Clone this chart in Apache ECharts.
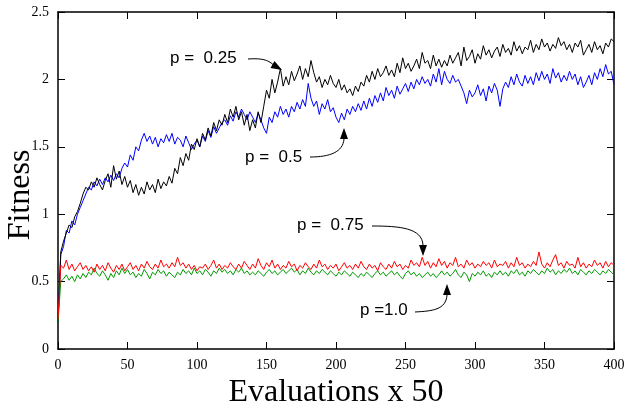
<!DOCTYPE html>
<html>
<head>
<meta charset="utf-8">
<script src="https://cdn.jsdelivr.net/npm/echarts@6/dist/echarts.min.js"></script>
<style>html,body{margin:0;padding:0;background:#fff}#c{width:628px;height:406px}</style>
</head>
<body>
<div id="c"></div>
<script>
// x positions: evaluations 0..400 step 2
const xStep = 2;
const xTicks = [0, 50, 100, 150, 200, 250, 300, 350, 400];
const yTicks = [0, 0.5, 1, 1.5, 2, 2.5];

const p025 = [
0.20,0.72,0.80,0.86,0.92,0.90,0.98,1.02,1.08,1.15,
1.20,1.18,1.24,1.20,1.27,1.22,1.18,1.25,1.30,1.20,
1.36,1.26,1.32,1.22,1.28,1.20,1.25,1.16,1.22,1.14,
1.20,1.15,1.24,1.18,1.22,1.16,1.26,1.19,1.24,1.21,
1.28,1.23,1.34,1.30,1.42,1.36,1.45,1.40,1.52,1.48,
1.56,1.50,1.60,1.55,1.64,1.58,1.68,1.62,1.70,1.66,
1.74,1.68,1.78,1.72,1.80,1.70,1.76,1.66,1.74,1.62,
1.70,1.64,1.76,1.68,1.80,1.92,1.86,2.00,1.90,1.98,
2.08,1.95,2.02,1.96,2.06,1.99,2.04,2.10,2.00,2.08,
2.02,2.14,2.05,1.98,2.02,1.94,2.00,1.96,2.03,1.97,
1.94,2.00,1.92,1.96,1.90,1.93,1.88,1.95,1.91,1.98,
1.95,2.03,1.98,2.06,2.00,2.08,2.02,2.05,2.10,2.03,
2.07,2.02,2.12,2.05,2.16,2.08,2.12,2.06,2.10,2.15,
2.08,2.20,2.12,2.14,2.08,2.18,2.10,2.15,2.09,2.14,
2.10,2.18,2.12,2.16,2.20,2.10,2.24,2.14,2.17,2.22,
2.12,2.19,2.15,2.25,2.18,2.22,2.16,2.21,2.24,2.17,
2.26,2.20,2.23,2.18,2.28,2.21,2.25,2.19,2.24,2.22,
2.29,2.20,2.26,2.22,2.30,2.24,2.27,2.21,2.26,2.23,
2.31,2.25,2.28,2.22,2.26,2.20,2.27,2.24,2.29,2.18,
2.22,2.26,2.20,2.28,2.22,2.25,2.19,2.27,2.24,2.30,
2.28];

const p05 = [
0.20,0.70,0.76,0.88,0.86,0.95,0.92,1.00,1.05,1.10,
1.15,1.20,1.18,1.24,1.21,1.26,1.22,1.27,1.24,1.29,
1.25,1.30,1.27,1.34,1.38,1.35,1.44,1.40,1.50,1.47,
1.55,1.60,1.54,1.58,1.52,1.57,1.50,1.56,1.53,1.59,
1.54,1.60,1.52,1.57,1.55,1.50,1.58,1.53,1.48,1.52,
1.55,1.50,1.58,1.54,1.62,1.57,1.65,1.60,1.64,1.68,
1.70,1.66,1.73,1.69,1.76,1.72,1.78,1.74,1.70,1.76,
1.72,1.68,1.75,1.70,1.64,1.60,1.72,1.68,1.76,1.72,
1.80,1.74,1.78,1.72,1.80,1.76,1.83,1.78,1.85,1.80,
1.97,1.86,1.80,1.84,1.74,1.82,1.78,1.85,1.76,1.79,
1.72,1.68,1.75,1.70,1.78,1.74,1.80,1.76,1.82,1.77,
1.84,1.78,1.86,1.80,1.88,1.83,1.90,1.84,1.94,1.88,
1.92,1.86,1.95,1.89,1.93,1.97,1.91,1.98,1.93,2.00,
1.96,2.02,1.97,2.00,1.95,2.04,1.98,2.08,1.96,2.06,
2.00,1.97,2.03,1.98,2.00,1.95,1.90,1.82,1.92,1.87,
1.90,1.96,1.88,1.93,1.84,1.95,1.90,1.97,1.92,1.80,
1.93,1.98,1.94,2.02,1.96,2.04,1.98,1.95,2.03,1.97,
2.02,1.96,2.05,1.99,2.06,2.00,2.04,1.97,2.08,2.01,
2.05,1.98,2.03,1.99,2.06,2.00,2.04,1.96,2.02,1.94,
1.98,2.03,1.96,2.05,2.00,2.08,2.02,2.11,2.04,2.06,
1.96];

const p075 = [
0.22,0.62,0.60,0.66,0.59,0.63,0.58,0.61,0.64,0.59,
0.62,0.58,0.61,0.57,0.63,0.59,0.62,0.58,0.64,0.60,
0.57,0.62,0.59,0.63,0.58,0.61,0.64,0.59,0.62,0.58,
0.63,0.60,0.65,0.61,0.59,0.63,0.60,0.66,0.61,0.63,
0.60,0.64,0.61,0.68,0.62,0.64,0.60,0.63,0.59,0.62,
0.58,0.61,0.60,0.63,0.59,0.62,0.66,0.60,0.63,0.59,
0.62,0.60,0.64,0.61,0.59,0.63,0.60,0.65,0.62,0.59,
0.63,0.60,0.67,0.62,0.59,0.64,0.61,0.66,0.60,0.63,
0.59,0.62,0.60,0.65,0.61,0.63,0.58,0.62,0.60,0.64,
0.61,0.59,0.63,0.60,0.66,0.61,0.63,0.59,0.62,0.60,
0.63,0.58,0.61,0.64,0.60,0.62,0.59,0.63,0.60,0.65,
0.61,0.59,0.63,0.60,0.62,0.58,0.64,0.61,0.59,0.63,
0.60,0.65,0.61,0.63,0.59,0.62,0.60,0.66,0.62,0.64,
0.61,0.68,0.62,0.65,0.60,0.64,0.61,0.67,0.62,0.65,
0.60,0.64,0.62,0.68,0.61,0.63,0.60,0.66,0.62,0.64,
0.60,0.63,0.61,0.65,0.62,0.64,0.60,0.66,0.61,0.63,
0.62,0.65,0.60,0.64,0.61,0.68,0.62,0.64,0.60,0.63,
0.61,0.65,0.62,0.72,0.63,0.60,0.64,0.61,0.66,0.70,
0.62,0.64,0.60,0.65,0.62,0.63,0.60,0.68,0.61,0.64,
0.60,0.63,0.61,0.66,0.62,0.64,0.60,0.65,0.61,0.64,
0.62];

const p10 = [
0.20,0.50,0.52,0.55,0.51,0.54,0.50,0.55,0.52,0.56,
0.53,0.57,0.55,0.60,0.56,0.54,0.58,0.55,0.51,0.56,
0.53,0.58,0.55,0.60,0.56,0.59,0.55,0.57,0.53,0.56,
0.54,0.59,0.56,0.52,0.57,0.55,0.59,0.56,0.58,0.54,
0.57,0.55,0.53,0.57,0.55,0.59,0.56,0.58,0.55,0.60,
0.56,0.58,0.55,0.59,0.57,0.54,0.58,0.56,0.60,0.57,
0.59,0.56,0.58,0.55,0.59,0.57,0.60,0.56,0.58,0.55,
0.57,0.55,0.58,0.56,0.54,0.57,0.59,0.56,0.58,0.55,
0.57,0.59,0.56,0.58,0.60,0.57,0.59,0.55,0.58,0.56,
0.60,0.57,0.55,0.58,0.56,0.59,0.57,0.55,0.58,0.56,
0.54,0.57,0.55,0.58,0.56,0.54,0.57,0.55,0.53,0.56,
0.54,0.57,0.55,0.53,0.56,0.58,0.55,0.57,0.54,0.56,
0.58,0.55,0.57,0.54,0.52,0.56,0.58,0.55,0.57,0.54,
0.56,0.53,0.55,0.57,0.54,0.56,0.53,0.55,0.58,0.55,
0.57,0.54,0.56,0.59,0.55,0.53,0.57,0.55,0.50,0.56,
0.54,0.57,0.55,0.58,0.54,0.56,0.53,0.57,0.55,0.58,
0.55,0.57,0.54,0.58,0.56,0.59,0.55,0.57,0.54,0.58,
0.56,0.59,0.57,0.55,0.58,0.56,0.60,0.57,0.59,0.55,
0.58,0.56,0.59,0.57,0.60,0.56,0.58,0.55,0.59,0.57,
0.55,0.58,0.56,0.59,0.57,0.55,0.58,0.56,0.59,0.57,
0.55];

const labels = ['p =  0.25', 'p =  0.5', 'p =  0.75', 'p =1.0'];
const xName = 'Evaluations x 50';
const yName = 'Fitness';

function pairs(arr) { return arr.map((v, i) => [i * xStep, v]); }

const serif = 'Liberation Serif, Times New Roman, serif';
const sans = 'Liberation Sans, Arial, sans-serif';

const chart = echarts.init(document.getElementById('c'), null, {renderer: 'canvas'});

const baseX = {
  type: 'value', min: xTicks[0], max: xTicks[xTicks.length - 1], interval: 50,
  splitLine: {show: false},
  axisLine: {show: true, onZero: false, lineStyle: {color: '#000', width: 1.5}},
  axisTick: {show: true, inside: true, length: 7, lineStyle: {color: '#000', width: 1}}
};
const baseY = {
  type: 'value', min: yTicks[0], max: yTicks[yTicks.length - 1], interval: 0.5,
  splitLine: {show: false},
  axisLine: {show: true, onZero: false, lineStyle: {color: '#000', width: 1.5}},
  axisTick: {show: true, inside: true, length: 7, lineStyle: {color: '#000', width: 1}}
};

function arrowHead(pts) {
  return {type: 'polygon', shape: {points: pts}, style: {fill: '#000'}, z: 100};
}
function curve(x1, y1, c1x, c1y, c2x, c2y, x2, y2) {
  return {type: 'bezierCurve', shape: {x1, y1, cpx1: c1x, cpy1: c1y, cpx2: c2x, cpy2: c2y, x2, y2},
    style: {stroke: '#000', lineWidth: 1, fill: null}, z: 100};
}
function label(t, x, y) {
  return {type: 'text', left: x, top: y - 10, z: 100,
    style: {text: t, font: '17px ' + sans, fill: '#000', textVerticalAlign: 'top'}};
}

chart.setOption({
  animation: false,
  backgroundColor: '#fff',
  grid: {left: 58, right: 14, top: 12, bottom: 57, show: false, containLabel: false, outerBoundsMode: 'none'},
  xAxis: [
    Object.assign({}, baseX, {
      position: 'bottom',
      name: xName, nameLocation: 'middle', nameGap: 24,
      nameTextStyle: {fontFamily: serif, fontSize: 32, color: '#000'},
      axisLabel: {show: true, margin: 9, fontFamily: serif, fontSize: 14, color: '#000'}
    }),
    Object.assign({}, baseX, {position: 'top', axisLabel: {show: false}})
  ],
  yAxis: [
    Object.assign({}, baseY, {
      position: 'left',
      axisLabel: {show: true, margin: 9, fontFamily: serif, fontSize: 14, color: '#000'}
    }),
    Object.assign({}, baseY, {position: 'right', axisLabel: {show: false}})
  ],
  series: [
    {name: labels[1], type: 'line', data: pairs(p05), showSymbol: false, lineStyle: {color: '#0000ff', width: 1}, itemStyle: {color: '#0000ff'}},
    {name: labels[0], type: 'line', data: pairs(p025), showSymbol: false, lineStyle: {color: '#000000', width: 1}, itemStyle: {color: '#000'}},
    {name: labels[3], type: 'line', data: pairs(p10), showSymbol: false, lineStyle: {color: '#009a00', width: 1}, itemStyle: {color: '#009a00'}},
    {name: labels[2], type: 'line', data: pairs(p075), showSymbol: false, lineStyle: {color: '#ff0000', width: 1}, itemStyle: {color: '#ff0000'}}
  ],
  graphic: [
    {type: 'text', x: 21, y: 195, rotation: Math.PI / 2, z: 100,
      style: {text: yName, font: '32px ' + serif, fill: '#000', align: 'center', verticalAlign: 'middle'}},
    label(labels[0], 170, 60),
    curve(248, 59, 262, 58, 268, 60, 273, 64.5),
    arrowHead([[282, 70], [270.5, 67.9], [274.5, 61.0]]),
    label(labels[1], 245, 159),
    curve(310, 157, 330, 157, 343, 152, 344, 139),
    arrowHead([[344, 128], [340, 139], [348, 139]]),
    label(labels[2], 297, 227),
    curve(372, 226, 400, 226, 422, 228, 423, 245),
    arrowHead([[423, 256], [419, 245], [427, 245]]),
    label(labels[3], 360, 312),
    curve(415, 312, 432, 311, 446, 310, 447, 295),
    arrowHead([[447, 284], [443, 295], [451, 295]])
  ]
});
</script>
</body>
</html>
